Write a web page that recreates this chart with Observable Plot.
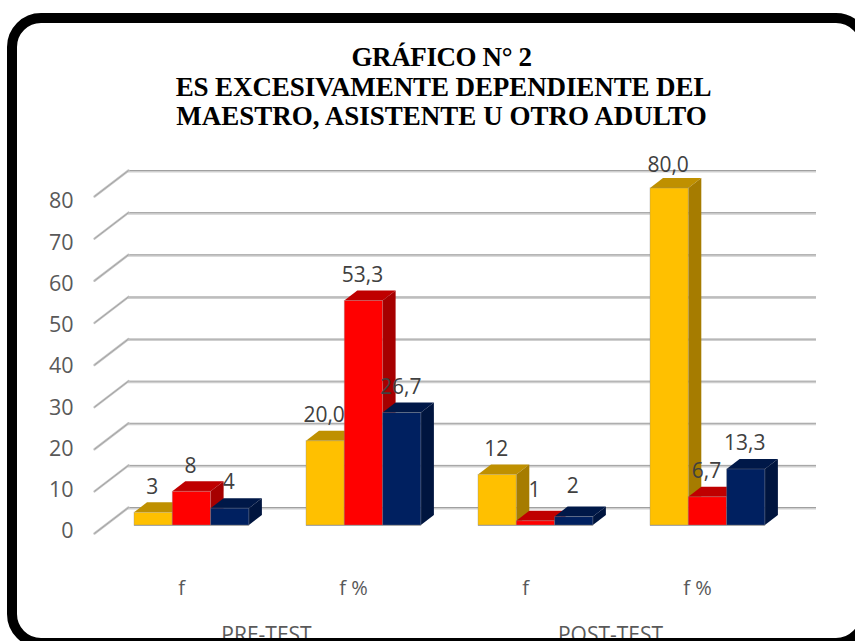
<!DOCTYPE html>
<html>
<head>
<meta charset="utf-8">
<script src="https://cdn.jsdelivr.net/npm/d3@7"></script>
<script src="https://cdn.jsdelivr.net/npm/@observablehq/plot@0.6"></script>
<style>
html,body{margin:0;padding:0;background:#fff;}
#page{position:relative;width:855px;height:641px;overflow:hidden;background:#fff;}
#frame{position:absolute;left:7px;top:13px;width:863px;height:635px;box-sizing:border-box;border:10px solid #000;border-radius:34px;z-index:3;pointer-events:none;}
#title{position:absolute;left:0;top:43px;width:883px;text-align:center;font:bold 27px/29.5px "Liberation Serif",serif;color:#000;z-index:2;}
#title span{position:relative;}
#chart{position:absolute;left:0;top:0;z-index:1;}
</style>
</head>
<body>
<div id="page">
  <div id="title"><span style="letter-spacing:-.4px">GRÁFICO N° 2</span><br><span style="letter-spacing:-.1px;left:2px">ES EXCESIVAMENTE DEPENDIENTE DEL</span><br>MAESTRO, ASISTENTE U OTRO ADULTO</div>
  <div id="chart"></div>
  <div id="frame"></div>
</div>
<script>
const periods = ["PRE-TEST", "POST-TEST"];
const categories = ["f", "f %", "f", "f %"];
const seriesA = [3, 20.0, 12, 80.0];
const seriesB = [8, 53.3, 1, 6.7];
const seriesC = [4, 26.7, 2, 13.3];
const labelsA = ["3", "20,0", "12", "80,0"];
const labelsB = ["8", "53,3", "1", "6,7"];
const labelsC = ["4", "26,7", "2", "13,3"];
const yTicks = [0, 10, 20, 30, 40, 50, 60, 70, 80];
const frontColors = ["#FFC000", "#FF0000", "#002060"];
const topColors = ["#BF9000", "#BF0000", "#001848"];
const sideColors = ["#A67C00", "#A60000", "#00153F"];

const unitPx = 172;            // one category on the x scale
const barW = 38.3 / unitPx, barGap = 40 / unitPx;
const depthX = 13, depthY = 10; // bar depth in pixels
const wallX = 34 / unitPx, wallBack = 18 / (337 / 80), wallFront = 8 / (337 / 80);

const seriesValues = [seriesA, seriesB, seriesC];
const seriesLabels = [labelsA, labelsB, labelsC];
const rows = categories.flatMap((c, i) => seriesValues.map((vals, s) => ({
  category: c, i, s, value: vals[i], label: seriesLabels[s][i],
  x1: i + barGap + s * barW, x2: i + barGap + (s + 1) * barW
})));

function bars3d(index, scales, values, dims, context) {
  const g = d3.create("svg:g");
  for (const i of index) {
    const x1 = values.x1[i], x2 = values.x2[i], y0 = values.y1[i], yt = values.y2[i];
    const s = rows[i].s;
    g.append("polygon").attr("fill", topColors[s])
      .attr("points", `${x1},${yt} ${x1 + depthX},${yt - depthY} ${x2 + depthX},${yt - depthY} ${x2},${yt}`);
    g.append("polygon").attr("fill", sideColors[s])
      .attr("points", `${x2},${yt} ${x2 + depthX},${yt - depthY} ${x2 + depthX},${y0 - depthY} ${x2},${y0}`);
    g.append("rect").attr("x", x1).attr("y", yt).attr("width", x2 - x1).attr("height", y0 - yt)
      .attr("fill", frontColors[s]).attr("stroke", "#8c8c8c").attr("stroke-opacity", 0.35).attr("stroke-width", 1);
  }
  return g.node();
}

const labelMark = (test, lift) => Plot.text(rows.filter(test), {
  x: d => (d.x1 + d.x2) / 2, y: "value", text: "label", dx: -1.5, dy: -lift, fontSize: 21, fill: "#404040"
});

const plot = Plot.plot({
  width: 855, height: 641,
  marginLeft: 94, marginRight: 39, marginTop: 188, marginBottom: 116,
  style: {background: "transparent", overflow: "visible", fontFamily: "'Open Sans',sans-serif"},
  x: {domain: [0, 4 + wallX], axis: null},
  y: {domain: [0, 80], axis: null},
  marks: [
    Plot.ruleY(yTicks, {y: d => d + wallBack, x1: wallX, x2: 4 + wallX, stroke: "#cfcfcf", strokeWidth: 2, dy: 1}),
    Plot.ruleY(yTicks, {y: d => d + wallBack, x1: wallX, x2: 4 + wallX, stroke: "#a0a0a0", strokeWidth: 1}),
    Plot.link(yTicks, {x1: 0, x2: wallX, y1: d => d - wallFront, y2: d => d + wallBack, stroke: "#c4c4c4", strokeWidth: 2.4, strokeLinecap: "round"}),
    Plot.link(yTicks, {x1: 0, x2: wallX, y1: d => d - wallFront, y2: d => d + wallBack, stroke: "#9a9a9a", strokeWidth: 0.8}),
    Plot.text(yTicks, {text: d => String(d), x: 0, y: d => d * 0.979, dx: -21, dy: 6, textAnchor: "end", fontSize: 21.5, fill: "#595959"}),
    Plot.rect(rows, {x1: "x1", x2: "x2", y1: () => 0, y2: "value", render: bars3d}),
    Plot.ruleY(categories.map((c, i) => i), {y: 0, x1: d => d + barGap, x2: d => d + barGap + 3 * barW, stroke: "#a6a6a6", strokeWidth: 1}),
    labelMark(d => d.value > 2 && d.value < 80, 26),
    labelMark(d => d.value <= 2, 31),
    labelMark(d => d.value >= 80, 23),
    Plot.text(categories, {x: (d, i) => i + 0.5, y: 0, text: d => d, dx: 1, dy: 63, fontSize: 20, fill: "#595959"}),
    Plot.text(periods, {x: (d, i) => 2 * i + 1, y: 0, text: d => d, dy: 110, fontSize: 21, fill: "#595959"})
  ]
});
document.getElementById("chart").appendChild(plot);
</script>
</body>
</html>
